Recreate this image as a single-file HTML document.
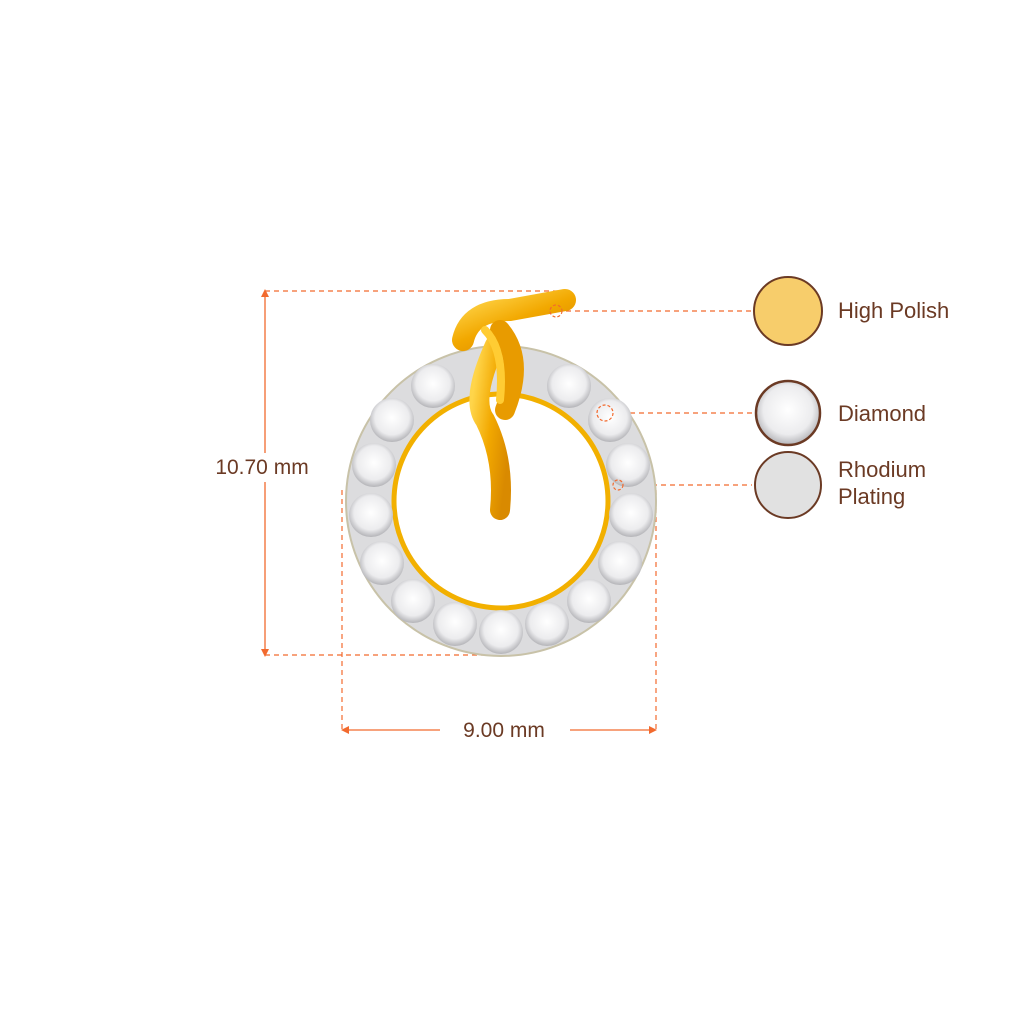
<!DOCTYPE html>
<html><head><style>
html,body{margin:0;padding:0;background:#fff;}
svg{display:block;}
text{font-family:"Liberation Sans",sans-serif;fill:#6b3a24;}
</style></head><body>
<svg width="1024" height="1024" viewBox="0 0 1024 1024">
<defs>
<radialGradient id="dia" cx="50%" cy="45%" r="55%">
<stop offset="0" stop-color="#ffffff"/><stop offset="0.7" stop-color="#ececee"/><stop offset="1" stop-color="#b4b4b8"/>
</radialGradient>
<linearGradient id="gold" x1="0" y1="0" x2="1" y2="1">
<stop offset="0" stop-color="#ffd54a"/><stop offset="0.5" stop-color="#f2a800"/><stop offset="1" stop-color="#d98a00"/>
</linearGradient>
</defs>
<g stroke="#f26a2e" stroke-width="1.2" fill="none" stroke-dasharray="5,4">
<line x1="265" y1="291" x2="570" y2="291"/>
<line x1="265" y1="655" x2="500" y2="655"/>
<line x1="342" y1="490" x2="342" y2="730"/>
<line x1="656" y1="490" x2="656" y2="730"/>
<line x1="566" y1="311" x2="752" y2="311"/>
<line x1="612" y1="413" x2="752" y2="413"/>
<line x1="625" y1="485" x2="752" y2="485"/>
</g>
<g stroke="#f26a2e" stroke-width="1.3">
<line x1="265" y1="293" x2="265" y2="453"/>
<line x1="265" y1="482" x2="265" y2="653"/>
<line x1="344" y1="730" x2="440" y2="730"/>
<line x1="570" y1="730" x2="654" y2="730"/>
</g>
<g fill="#f26a2e">
<polygon points="265,289 261,297 269,297"/>
<polygon points="265,657 261,649 269,649"/>
<polygon points="341,730 349,726 349,734"/>
<polygon points="657,730 649,726 649,734"/>
</g>
<text x="262" y="474" font-size="21" text-anchor="middle">10.70 mm</text>
<text x="504" y="737" font-size="21" text-anchor="middle">9.00 mm</text>
<circle cx="501" cy="501" r="131" fill="none" stroke="#dcdcde" stroke-width="48"/>
<circle cx="501" cy="501" r="155" fill="none" stroke="#c8c2a8" stroke-width="2"/>
<circle cx="501" cy="501" r="107" fill="none" stroke="#f2b000" stroke-width="5"/>
<g>
<circle cx="501" cy="632" r="22" fill="url(#dia)"/>
<circle cx="455" cy="624" r="22" fill="url(#dia)"/>
<circle cx="547" cy="624" r="22" fill="url(#dia)"/>
<circle cx="413" cy="601" r="22" fill="url(#dia)"/>
<circle cx="589" cy="601" r="22" fill="url(#dia)"/>
<circle cx="382" cy="563" r="22" fill="url(#dia)"/>
<circle cx="620" cy="563" r="22" fill="url(#dia)"/>
<circle cx="371" cy="515" r="22" fill="url(#dia)"/>
<circle cx="631" cy="515" r="22" fill="url(#dia)"/>
<circle cx="374" cy="465" r="22" fill="url(#dia)"/>
<circle cx="628" cy="465" r="22" fill="url(#dia)"/>
<circle cx="392" cy="420" r="22" fill="url(#dia)"/>
<circle cx="610" cy="420" r="22" fill="url(#dia)"/>
<circle cx="433" cy="386" r="22" fill="url(#dia)"/>
<circle cx="569" cy="386" r="22" fill="url(#dia)"/>
</g>
<path d="M463 340 Q470 310 510 310 L565 300" stroke="url(#gold)" stroke-width="22" fill="none" stroke-linecap="round"/>
<path d="M495 345 Q470 400 485 420 Q505 460 500 510" stroke="url(#gold)" stroke-width="20" fill="none" stroke-linecap="round"/>
<path d="M500 330 Q525 360 505 410" stroke="#e89b00" stroke-width="20" fill="none" stroke-linecap="round"/>
<path d="M485 330 Q505 350 500 400" stroke="#ffcc33" stroke-width="8" fill="none" stroke-linecap="round"/>
<g stroke="#f26a2e" stroke-width="1.2" fill="none" stroke-dasharray="3,2">
<circle cx="556" cy="311" r="6"/><circle cx="605" cy="413" r="8"/><circle cx="618" cy="485" r="5"/>
</g>
<circle cx="788" cy="311" r="34" fill="#f7cd6b" stroke="#6b3a24" stroke-width="2"/>
<circle cx="788" cy="413" r="32" fill="url(#dia)" stroke="#6b3a24" stroke-width="2.5"/>
<circle cx="788" cy="485" r="33" fill="#e1e1e1" stroke="#6b3a24" stroke-width="2"/>
<text x="838" y="318" font-size="22">High Polish</text>
<text x="838" y="421" font-size="22">Diamond</text>
<text x="838" y="477" font-size="22">Rhodium</text>
<text x="838" y="504" font-size="22">Plating</text>
</svg>
</body></html>
